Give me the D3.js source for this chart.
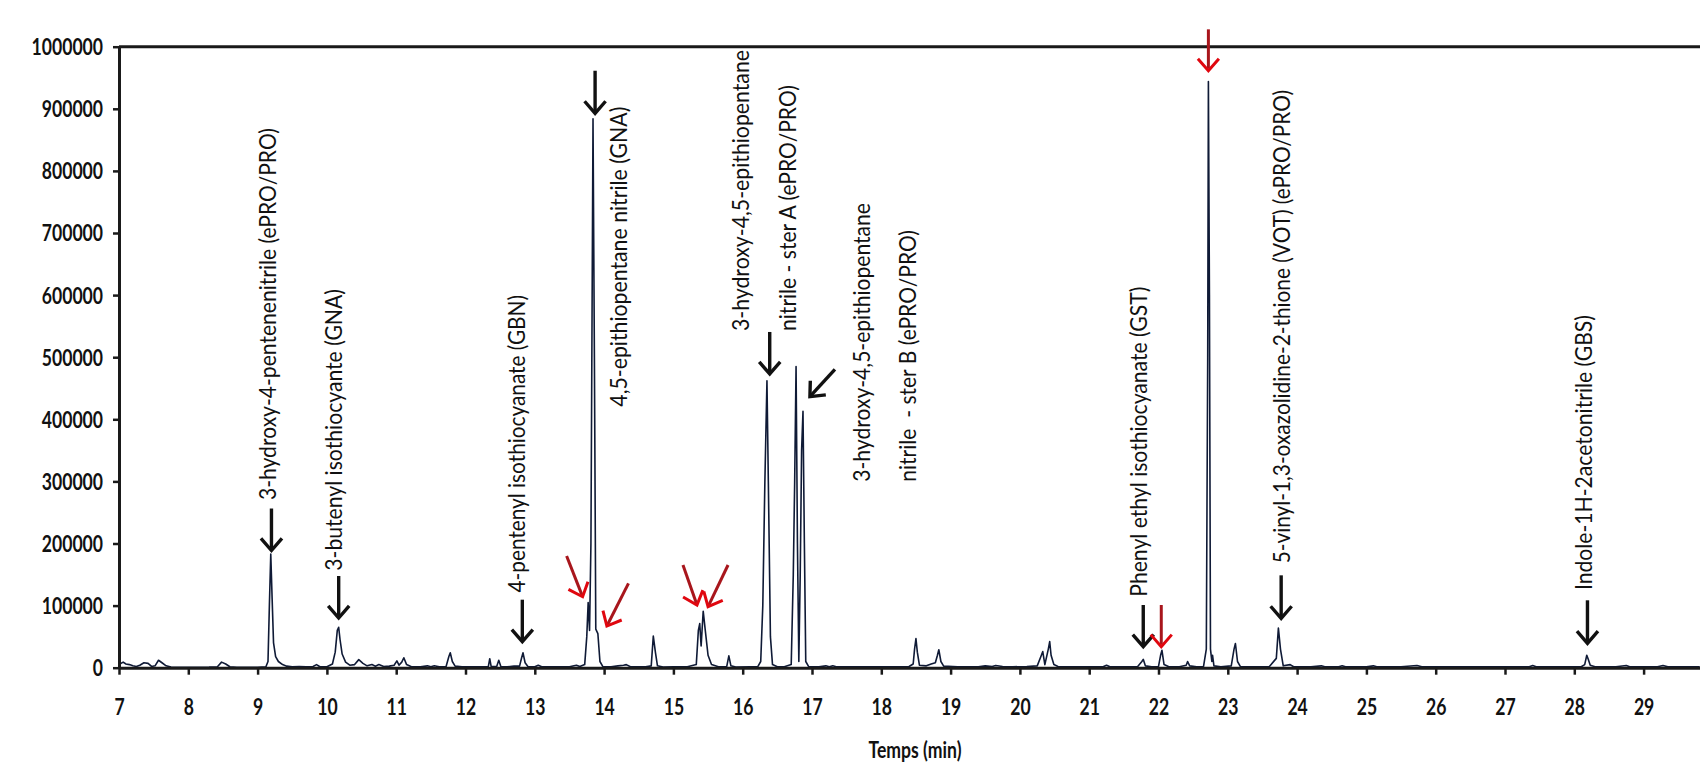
<!DOCTYPE html>
<html><head><meta charset="utf-8">
<script src="https://cdn.jsdelivr.net/npm/d3@7"></script>
<style>
html,body{margin:0;padding:0;background:#fff;overflow:hidden}
text{font-family:Lato,"Open Sans",sans-serif}
</style>
</head><body>
<svg id="chart" width="1700" height="764"></svg>
<script>
// ---------------- DATA ----------------
const retentionTime = [
 7.00,7.03,7.06,7.10,7.15,7.20,7.25,7.30,7.36,7.42,7.47,7.52,7.57,7.62,7.68,7.75,7.90,8.10,8.30,8.42,8.48,8.54,8.60,8.70,
 9.00,9.12,9.15,9.17,9.19,9.21,9.23,9.26,9.30,9.36,9.42,9.50,9.60,9.70,9.80,9.85,9.90,
 10.00,10.08,10.12,10.15,10.17,10.19,10.22,10.27,10.33,10.40,10.46,10.52,10.58,10.65,10.70,10.75,10.82,10.90,10.97,
 11.01,11.04,11.08,11.11,11.15,11.22,11.35,11.45,11.50,11.55,11.62,11.72,11.76,11.78,11.81,11.85,11.95,
 12.10,12.25,12.33,12.35,12.37,12.45,12.48,12.51,12.60,12.70,12.78,12.81,12.83,12.86,12.90,
 13.00,13.05,13.10,13.30,13.50,13.60,13.65,13.72,13.75,13.77,13.79,13.81,13.84,13.86,13.88,13.91,13.94,13.98,
 14.10,14.20,14.28,14.32,14.38,14.60,14.68,14.71,14.74,14.77,14.85,
 15.00,15.20,15.33,15.36,15.38,15.40,15.43,15.46,15.50,15.55,15.65,15.77,15.80,15.83,15.90,
 16.10,16.22,16.26,16.29,16.32,16.35,16.37,16.40,16.43,16.50,16.60,16.70,16.73,16.75,16.77,16.79,16.81,16.83,16.85,16.87,16.89,16.91,16.95,
 17.10,17.20,17.25,17.30,17.35,17.60,17.90,
 18.20,18.40,18.46,18.48,18.50,18.52,18.55,18.65,18.72,18.78,18.81,18.83,18.86,18.90,
 19.10,19.40,19.50,19.60,19.65,19.75,19.90,
 20.10,20.25,20.31,20.33,20.36,20.41,20.43,20.45,20.49,20.55,20.80,
 21.00,21.20,21.25,21.30,21.50,21.70,21.76,21.78,21.81,21.90,
 22.00,22.03,22.05,22.08,22.15,22.30,22.40,22.42,22.45,22.55,22.65,22.69,22.71,22.72,22.735,22.75,22.77,22.78,22.80,22.90,
 23.05,23.09,23.11,23.14,23.18,23.40,23.60,23.70,23.73,23.76,23.80,23.90,23.95,
 24.20,24.35,24.40,24.60,24.65,24.70,
 25.00,25.10,25.15,25.50,25.73,25.80,26.20,26.80,27.35,27.40,27.45,27.90,
 28.10,28.15,28.18,28.20,28.23,28.30,28.60,28.75,28.80,29.20,29.28,29.35,29.81
];
const intensity = [
 9000,7000,9000,6000,5000,3000,2000,4000,8000,7000,2000,3000,12000,8000,3000,1000,800,800,900,1500,9000,6000,1500,800,
 800,1500,10000,100000,183000,110000,40000,18000,10000,5000,2500,1500,2000,1500,2000,5000,1500,
 1500,6000,25000,60000,65000,45000,22000,9000,4000,5000,13000,7000,3000,5000,2500,5000,2000,2500,4000,
 11000,4000,9000,16000,5000,1500,1500,3000,1500,3000,1500,2000,18000,24000,10000,2500,1500,
 1500,1500,2000,14500,2000,2000,12000,2000,1500,2500,2500,16000,24000,8000,2000,
 1500,4000,1500,1500,1500,4000,2000,5000,50000,105000,60000,200000,884000,500000,62000,55000,10000,2000,
 1500,3000,4000,5000,1500,1500,3000,51000,25000,3000,1000,
 1500,1500,5000,60000,71000,35000,91000,60000,20000,5000,1500,2000,19000,3000,1000,
 1500,2000,10000,100000,300000,462000,300000,50000,5000,1500,1500,5000,150000,300000,485000,200000,10000,150000,350000,413000,200000,10000,2000,
 1500,3000,1500,3000,1500,1500,1500,
 1500,2000,6000,30000,47000,25000,4000,3000,6000,8000,20000,29000,10000,2500,
 1500,1500,3000,2000,3500,2000,1500,
 2000,3000,20000,26000,5000,30000,42000,20000,5000,2000,1500,
 1500,1500,4000,1500,1500,2000,10000,13500,3000,1500,
 2000,20000,28000,5000,1500,1500,4000,10000,3000,1500,2000,30000,500000,944000,600000,30000,10000,20000,3000,1500,
 3000,30000,39000,10000,2000,1500,2000,15000,64000,30000,3000,5000,1500,
 1500,3000,1500,1500,3000,1500,
 1500,3000,1500,1500,3500,1500,1500,1500,1500,3500,1500,1500,
 1500,5000,20000,14000,4000,1500,1500,3500,1500,1500,3500,1500,1500
];
const xTickValues = [7,8,9,10,11,12,13,14,15,16,17,18,19,20,21,22,23,24,25,26,27,28,29];
const yTickValues = [0,100000,200000,300000,400000,500000,600000,700000,800000,900000,1000000];
const xAxisTitle = "Temps (min)";

// peak annotation texts (one entry per text line)
const labelText = [
 "3-hydroxy-4-pentenenitrile (ePRO/PRO)",
 "3-butenyl isothiocyante (GNA)",
 "4-pentenyl isothiocyanate (GBN)",
 "4,5-epithiopentane nitrile (GNA)",
 "3-hydroxy-4,5-epithiopentane",
 "nitrile - ster A (ePRO/PRO)",
 "3-hydroxy-4,5-epithiopentane",
 "nitrile  - ster B (ePRO/PRO)",
 "Phenyl ethyl isothiocyanate (GST)",
 "5-vinyl-1,3-oxazolidine-2-thione (VOT) (ePRO/PRO)",
 "Indole-1H-2acetonitrile (GBS)"
];
// arrow targets (retention time, intensity at arrow tip) and kind
const arrowTime  = [9.2, 10.17, 12.82, 13.87, 16.39, 16.97, 21.78, 23.77, 28.19, 22.04, 22.72, 13.69, 14.04, 15.34, 15.50];
const arrowValue = [188700, 80000, 41900, 892700, 473000, 436400, 33800, 79500, 39300, 33800, 961300, 114300, 67100, 101000, 98200];
const arrowKind  = ["black","black","black","black","black","black","black","black","black","red","red","red","red","red","red"];

// ---------------- LAYOUT ----------------
const W = 1700, H = 764;
const plot = {left: 119, right: 1700, top: 46.7, bottom: 667.7};
const minutesPerPx = 1/69.3;
// label anchors: baseline position (minutes), bottom end (intensity), drawn length (px)
const labelLayout = [
 {t: 9.265, v: 270050, len: 372},
 {t: 10.218, v: 156200, len: 281.7},
 {t: 12.859, v: 121100, len: 297.5},
 {t: 14.330, v: 420300, len: 300},
 {t: 16.091, v: 542200, len: 281},
 {t: 16.762, v: 542200, len: 246},
 {t: 17.844, v: 299500, len: 278.7},
 {t: 18.494, v: 299500, len: 251.7},
 {t: 21.834, v: 114300, len: 310},
 {t: 23.898, v: 168100, len: 473.3},
 {t: 28.256, v: 125100, len: 275}
];
// arrow tail offsets from tip (px)
const arrowTail = [
 [0,-42],[0,-42],[0,-42],[0,-42.6],[0,-42],[25,-27.4],[0,-41.7],[0,-43],[0,-43],
 [0,-41.7],[0,-41.4],[-16,-40.7],[21.6,-42.7],[-14,-40],[20,-41.7]
];

// ---------------- DRAW ----------------
const svg = d3.select("#chart");
const x = d3.scaleLinear()
  .domain([7, 7 + (plot.right - plot.left) * minutesPerPx])
  .range([plot.left, plot.right]);
const y = d3.scaleLinear().domain([0, 1000000]).range([plot.bottom, plot.top]);

const axisColor = "#1a1a1a";

// top border line
svg.append("line")
  .attr("x1", x.range()[0]).attr("x2", x.range()[1])
  .attr("y1", y(1000000)).attr("y2", y(1000000))
  .attr("stroke", axisColor).attr("stroke-width", 3);

// chromatogram
const pts = retentionTime.map((t, i) => [t, intensity[i]]);
svg.append("path")
  .datum(pts)
  .attr("fill", "none")
  .attr("stroke", "#0f1a36")
  .attr("stroke-width", 1.6)
  .attr("stroke-linejoin", "round")
  .attr("d", d3.line().x(d => x(d[0])).y(d => y(d[1])));

// y axis
const gy = svg.append("g").attr("transform", `translate(${plot.left},0)`)
  .call(d3.axisLeft(y).tickValues(yTickValues).tickFormat(d3.format("d")).tickSize(6).tickSizeOuter(0));
gy.select(".domain").attr("stroke", axisColor).attr("stroke-width", 3);
gy.selectAll(".tick line").attr("stroke", axisColor).attr("stroke-width", 2.5);
gy.selectAll(".tick text")
  .attr("fill", "#111").attr("font-size", 22).attr("font-weight", 700)
  .attr("font-family", "Lato, 'Open Sans', sans-serif")
  .attr("x", -16 / 0.8).attr("dy", "0.36em")
  .attr("transform", "scale(0.8,1)");

// x axis
const gx = svg.append("g").attr("transform", `translate(0,${plot.bottom})`)
  .call(d3.axisBottom(x).tickValues(xTickValues).tickFormat(d3.format("d")).tickSize(7).tickSizeOuter(0));
gx.select(".domain").attr("stroke", axisColor).attr("stroke-width", 3);
gx.selectAll(".tick line").attr("stroke", axisColor).attr("stroke-width", 2.5);
gx.selectAll(".tick text")
  .attr("fill", "#111").attr("font-size", 22).attr("font-weight", 700)
  .attr("font-family", "Lato, 'Open Sans', sans-serif")
  .attr("y", 47).attr("dy", 0)
  .attr("transform", "scale(0.8,1)");

// x axis title (kept fully inside the picture)
svg.append("text")
  .attr("transform", `translate(915,${H - 6}) scale(0.8,1)`)
  .attr("text-anchor", "middle")
  .attr("font-size", 22).attr("font-weight", 700).attr("fill", "#111")
  .text(xAxisTitle);

// peak labels
svg.append("g").selectAll("text").data(labelText).join("text")
  .attr("transform", (d, i) => `translate(${x(labelLayout[i].t)},${y(labelLayout[i].v)}) rotate(-90)`)
  .attr("text-anchor", "start")
  .attr("font-size", 23)
  .attr("fill", "#111")
  .attr("textLength", (d, i) => labelLayout[i].len)
  .attr("lengthAdjust", "spacingAndGlyphs")
  .style("white-space", "pre")
  .text(d => d);

// arrows
const headLen = 16, headAng = 41 * Math.PI / 180;
const ga = svg.append("g");
arrowTime.forEach((t, i) => {
  const tx = x(t), ty = y(arrowValue[i]);
  const sx = tx + arrowTail[i][0], sy = ty + arrowTail[i][1];
  const dx = tx - sx, dy = ty - sy, L = Math.hypot(dx, dy);
  const ux = dx / L, uy = dy / L;
  const rot = a => [-(ux * Math.cos(a) - uy * Math.sin(a)), -(ux * Math.sin(a) + uy * Math.cos(a))];
  const a1 = rot(headAng), a2 = rot(-headAng);
  const red = arrowKind[i] === "red";
  ga.append("line")
    .attr("x1", sx).attr("y1", sy).attr("x2", tx - ux * 2).attr("y2", ty - uy * 2)
    .attr("stroke", red ? "#a8161c" : "#111").attr("stroke-width", red ? 3 : 3.4);
  ga.append("path")
    .attr("d", `M${tx + a1[0] * headLen},${ty + a1[1] * headLen}L${tx},${ty}L${tx + a2[0] * headLen},${ty + a2[1] * headLen}`)
    .attr("fill", "none")
    .attr("stroke", red ? "#e0070f" : "#111").attr("stroke-width", red ? 3 : 3.4)
    .attr("stroke-linejoin", "miter");
});
</script>
</body></html>
